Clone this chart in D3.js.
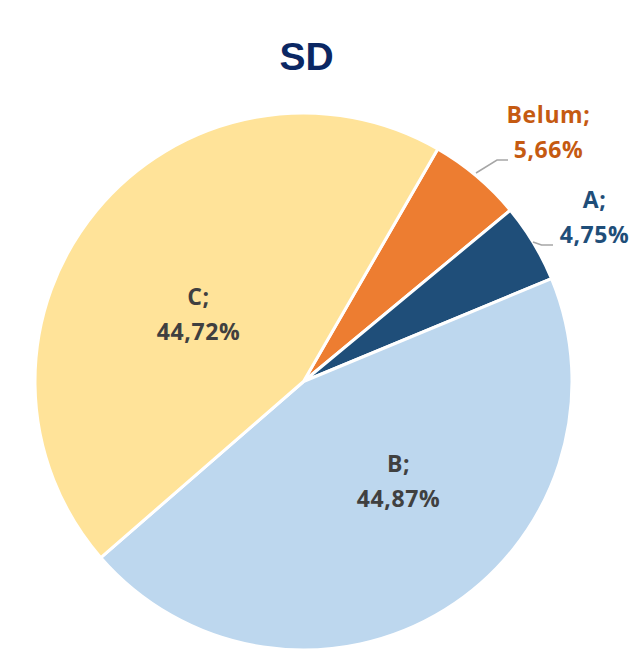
<!DOCTYPE html>
<html><head><meta charset="utf-8">
<script src="https://cdn.jsdelivr.net/npm/d3@7"></script>
<style>body{margin:0;background:#fff;}svg{display:block;}</style>
</head><body>
<script>
const categories = ["Belum", "A", "B", "C"];
const values = [5.66, 4.75, 44.87, 44.72];
const valueLabels = ["5,66%", "4,75%", "44,87%", "44,72%"];
const colors = ["#ED7D31", "#1F4E79", "#BDD7EE", "#FFE399"];
const labelColors = ["#C55A11", "#1F4E79", "#404040", "#404040"];
const title = "SD";

const W = 637, H = 668;
const cx = 303.5, cy = 381.5, R = 268.5;
const svg = d3.select("body").append("svg").attr("width", W).attr("height", H);

svg.append("text").attr("x", 306.5).attr("y", 69.5).attr("text-anchor", "middle")
  .attr("font-family", "Liberation Sans, Arial, sans-serif").attr("font-weight", "bold")
  .attr("font-size", 39).attr("fill", "#0B2763").text(title);

const start = 30 * Math.PI / 180;
const pie = d3.pie().sort(null).value(d => d).startAngle(start).endAngle(start + 2 * Math.PI);
const arcs = pie(values);
const arc = d3.arc().innerRadius(0).outerRadius(R);
const g = svg.append("g").attr("transform", `translate(${cx},${cy})`);
g.selectAll("path").data(arcs).join("path")
  .attr("d", arc).attr("fill", (d, i) => colors[i])
  .attr("stroke", "#fff").attr("stroke-width", 3).attr("stroke-linejoin", "round");

// label positions relative to center (first-line baseline)
const labelPos = [[245, -258.5], [291, -173.5], [95, 90.5], [-105, -76.5]];
const fontFam = "'Open Sans', 'Noto Sans', sans-serif";
arcs.forEach((d, i) => {
  const [lx, ly] = labelPos[i];
  const t = g.append("text").attr("text-anchor", "middle")
    .attr("font-family", fontFam).attr("font-weight", "bold").attr("font-size", 23)
    .attr("letter-spacing", 0.6)
    .attr("fill", labelColors[i]);
  t.append("tspan").attr("x", lx).attr("y", ly).text(categories[i] + ";");
  t.append("tspan").attr("x", lx).attr("y", ly + 34.5).text(valueLabels[i]);
});

// leader lines
const leaders = [
  [[172.5, -208.5], [193.5, -221.5], [204.5, -221.5]],
  [[229.5, -139.5], [238, -136.5], [249.5, -136.5]]
];
leaders.forEach(pts => {
  g.append("path").attr("d", d3.line()(pts)).attr("fill", "none")
    .attr("stroke", "#A6A6A6").attr("stroke-width", 1.5);
});
</script>
</body></html>
